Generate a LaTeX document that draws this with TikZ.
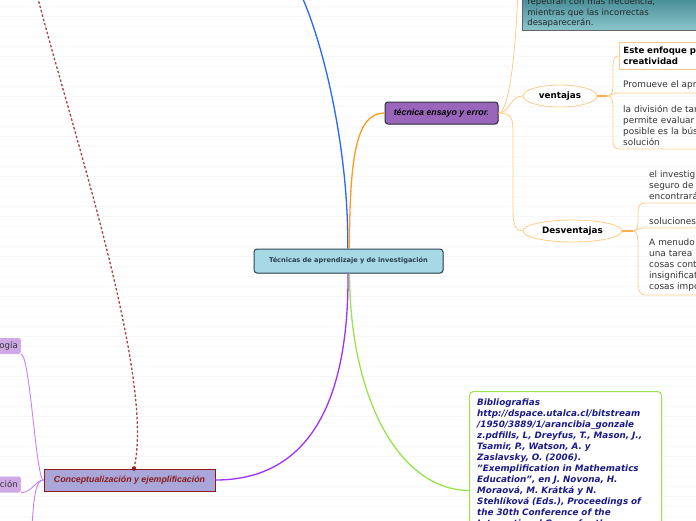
\documentclass[tikz,border=0pt]{standalone}
\usepackage{fontspec}
\setmainfont{DejaVu Sans}
\newfontfamily\arialf{Liberation Sans}
\usetikzlibrary{shapes.geometric,shadows}
\definecolor{blueC}{HTML}{2A64FF}
\definecolor{orangeC}{HTML}{FF9A1F}
\definecolor{greenC}{HTML}{99E34D}
\definecolor{violetC}{HTML}{A030FF}
\definecolor{subO}{HTML}{FFCC88}
\definecolor{tecFill}{HTML}{9966BB}
\definecolor{cenFill}{HTML}{A6D9E5}
\definecolor{cenBorder}{HTML}{2F4656}
\definecolor{cenText}{HTML}{2C3E50}
\definecolor{conFill}{HTML}{A9A7D9}
\definecolor{conRed}{HTML}{8B1A1A}
\definecolor{dotRed}{HTML}{A94442}
\definecolor{lavFill}{HTML}{CFA9E6}
\definecolor{lpC}{HTML}{C680FF}
\definecolor{bibBlue}{HTML}{1A1A8A}
\definecolor{tealTop}{HTML}{3F8791}
\definecolor{tealBot}{HTML}{8CC6CD}
\begin{document}
\begin{tikzpicture}[x=1pt,y=-1pt,
  mainline/.style={line width=1.3pt},
  sub/.style={draw=subO,line width=0.8pt},
  subthick/.style={draw=orangeC!80,line width=1.2pt},
  lp/.style={draw=lpC,line width=0.9pt},
  centralbox/.style={draw=cenBorder,fill=cenFill,rounded corners=3pt,line width=1pt,
    minimum width=189pt,minimum height=24pt,inner sep=0pt,text=cenText,
    font=\bfseries\fontsize{6.6}{8}\selectfont,
    drop shadow={shadow xshift=0.8pt,shadow yshift=-0.8pt,opacity=0.3}},
  tecbox/.style={draw=black!80,fill=tecFill,rounded corners=3pt,line width=1pt,
    minimum width=113pt,minimum height=22pt,inner sep=0pt,
    font=\arialf\bfseries\itshape\fontsize{8.8}{10}\selectfont,
    drop shadow={shadow xshift=0.8pt,shadow yshift=-0.8pt,opacity=0.3}},
  tealbox/.style={draw=black!60,top color=tealTop,bottom color=tealBot,line width=0.8pt,
    text width=190pt,align=left,inner xsep=5pt,inner ysep=3pt,text=black!85,
    font=\fontsize{8.5}{10.5}\selectfont},
  ell/.style={ellipse,draw=subO,fill=white,line width=0.8pt,minimum height=22pt,inner sep=0pt,
    font=\bfseries\fontsize{8.8}{10}\selectfont},
  leaf/.style={text width=100pt,align=left,inner xsep=4pt,inner ysep=3pt,text=black!80,
    font=\fontsize{8.9}{11}\selectfont},
  leafbold/.style={draw=subO,fill=white,line width=0.8pt,text width=100pt,align=left,
    inner xsep=4pt,minimum height=27pt,text=black,font=\bfseries\fontsize{8.6}{11}\selectfont},
  bibbox/.style={draw=greenC,fill=white,rounded corners=4pt,line width=1pt,
    minimum width=192pt,minimum height=198pt},
  bibtext/.style={inner xsep=8pt,inner ysep=7.5pt,text width=185pt,align=left,text=bibBlue,
    font=\bfseries\itshape\fontsize{8.8}{11}\selectfont},
  conbox/.style={draw=conRed,fill=conFill,line width=1pt,minimum width=171pt,minimum height=22pt,
    inner sep=0pt,text=conRed,font=\arialf\bfseries\itshape\fontsize{8.8}{10}\selectfont},
  lavbox/.style={fill=lavFill,rounded corners=2pt,minimum height=16pt,text width=40pt,
    align=right,inner xsep=3pt,inner ysep=0pt,text=black!80,font=\fontsize{8.6}{10}\selectfont},
  dotnode/.style={circle,fill=conRed,inner sep=0pt,minimum size=4.5pt},
  dotline/.style={draw=dotRed,line width=1.3pt,dash pattern=on 2.5pt off 2pt}
]
\useasboundingbox (0,0) rectangle (696,520);
\clip (0,0) rectangle (696,520);
\fill[white] (0,0) rectangle (696,520);
\foreach \i in {0,...,51} \draw[black!3,line width=0.6pt] (0,{6+10*\i}) -- (696,{6+10*\i});

% free ends
\coordinate (bluetop) at (299,-10);
\coordinate (tealin) at (518,-20);
\coordinate (dtop) at (37,-5);
\coordinate (lpdown) at (32,525);
\coordinate (j1) at (607,96);
\coordinate (j2) at (633,231);

% nodes
\node[centralbox] (c) at (348.5,261) {Técnicas de aprendizaje y de investigación};
\node[tecbox] (tec) at (441.5,113) {técnica ensayo y error.};
\node[tealbox,anchor=south west] (teal) at (522,31) {repetirán con más frecuencia,\\mientras que las incorrectas\\desaparecerán.};
\node[ell,minimum width=74pt] (vent) at (560,96) {ventajas};
\node[ell,minimum width=99pt] (desv) at (572.5,231) {Desventajas};
\node[leafbold,anchor=north west] (ef) at (619,42) {Este enfoque p\\creatividad};
\node[leaf,anchor=south west] (prom) at (619,93) {Promueve el apr};
\node[leaf,anchor=south west] (div) at (619,149) {la división de tar\\permite evaluar\\posible es la bús\\solución};
\node[leaf,anchor=south west] (inv) at (645,203) {el investig\\seguro de\\encontrará};
\node[leaf,anchor=south west] (sol) at (645,228) {soluciones};
\node[leaf,anchor=south west] (men) at (645,295) {A menudo\\una tarea\\cosas cont\\insignificat\\cosas impo};
\node[bibbox,anchor=north west] (bib) at (469,391) {};
\node[bibtext,anchor=north west] (bibt) at (bib.north west) {Bibliografias\\http://dspace.utalca.cl/bitstream\\/1950/3889/1/arancibia\_gonzale\\z.pdfills, L, Dreyfus, T., Mason, J.,\\Tsamir, P., Watson, A. y\\Zaslavsky, O. (2006).\\"Exemplification in Mathematics\\Education", en J. Novona, H.\\Moraová, M. Krátká y N.\\Stehlíková (Eds.), Proceedings of\\the 30th Conference of the\\International Group for the};
\node[conbox] (concept) at (129.5,480) {Conceptualización y ejemplificación};
\node[lavbox,anchor=east] (met) at (21,346) {ogía};
\node[lavbox,anchor=east] (cion) at (21,484.5) {ción};
\node[dotnode] (dot) at ([xshift=4.5pt]concept.north) {};

% main connectors
\draw[mainline,draw=blueC] ([xshift=-0.8pt]c.north) .. controls (349,160) and (327,50) .. (bluetop);
\draw[mainline,draw=orangeC] ([xshift=0.8pt]c.north) .. controls (350,160) and (355,113) .. (tec.west);
\draw[mainline,draw=greenC] ([xshift=1pt]c.south) .. controls (350,400) and (400,490) .. (bib.west);
\draw[mainline,draw=violetC] ([xshift=-0.5pt]c.south) .. controls (349,430) and (290,480) .. (concept.east);

% tecnica branches
\draw[sub] (tec.east) .. controls (510,113) and (517,40) .. (tealin);
\draw[sub] (tec.east) .. controls (510,113) and (510,96) .. (vent.west);
\draw[sub] (tec.east) .. controls (512,113) and (513,118) .. (513,135) -- (513,210) .. controls (513,226) and (516,231) .. (desv.west);

% ventajas branches
\draw[subthick] (vent.east) -- (j1);
\draw[sub] (j1) .. controls (612,96) and (613,92) .. (613,84) -- (613,66) .. controls (613,59) and (615,55.5) .. (ef.west);
\draw[sub] (j1) .. controls (611,96) and (611,93) .. (prom.south west) -- (prom.south east);
\draw[sub] (j1) .. controls (612,96) and (613,100) .. (613,110) -- (613,140) .. controls (613,147) and (615,149) .. (div.south west) -- (div.south east);

% desventajas branches
\draw[subthick] (desv.east) -- (j2);
\draw[sub] (j2) .. controls (637,231) and (638,226) .. (638,220) -- (638,212) .. controls (638,206) and (640,203) .. (inv.south west) -- (inv.south east);
\draw[sub] (j2) .. controls (636,231) and (637,228) .. (sol.south west) -- (sol.south east);
\draw[sub] (j2) .. controls (637,231) and (638,236) .. (638,245) -- (638,282) .. controls (638,291) and (640,295) .. (men.south west) -- (men.south east);

% conceptualizacion branches
\draw[lp] (concept.west) .. controls (36,480) and (30,354) .. (met.south east);
\draw[lp] (concept.west) .. controls (36,480) and (32,492.5) .. (cion.south east);
\draw[lp] (concept.west) .. controls (36,480) and (34,495) .. (lpdown);

% dotted relation
\draw[dotline] (dot.center) .. controls (155,380) and (75,140) .. (dtop);
\end{tikzpicture}
\end{document}
